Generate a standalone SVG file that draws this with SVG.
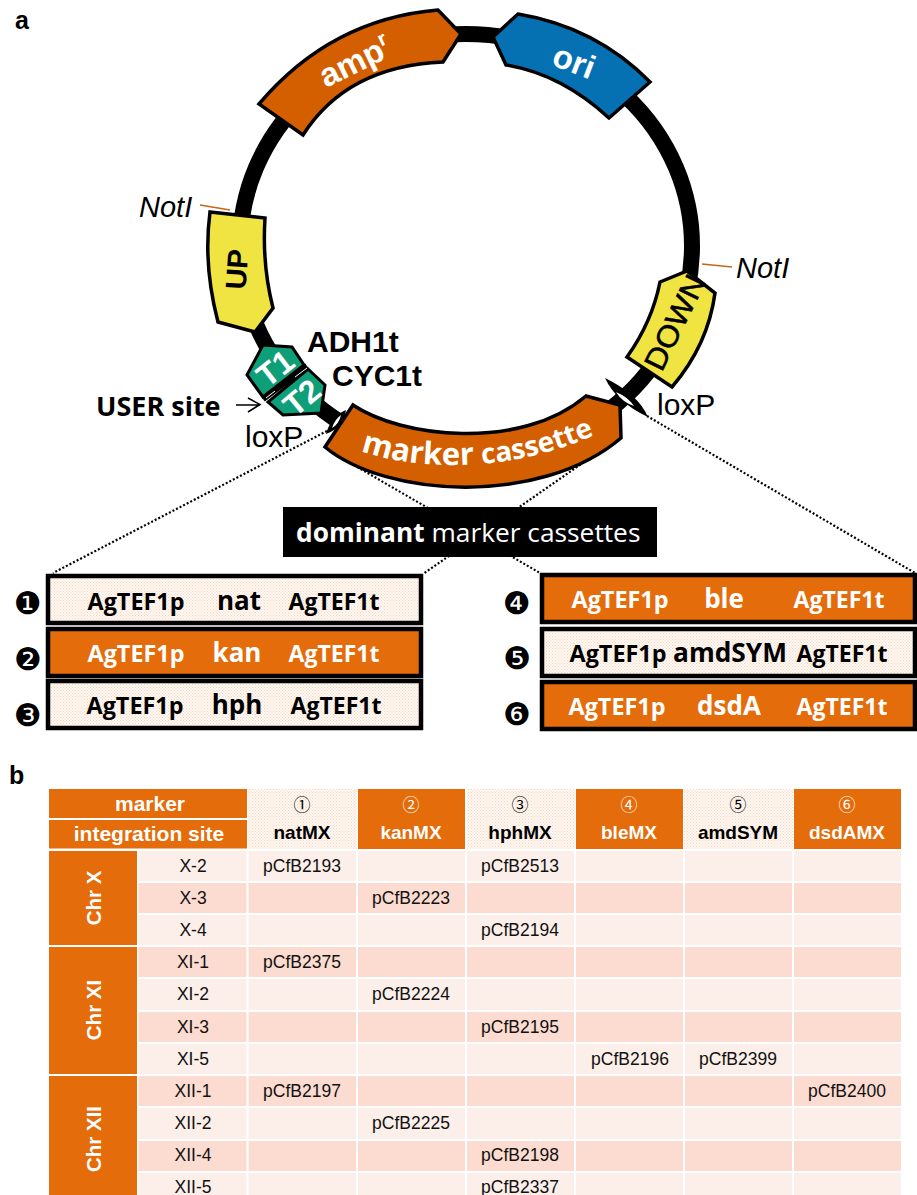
<svg xmlns="http://www.w3.org/2000/svg" width="917" height="1195" viewBox="0 0 917 1195">
<style>
text{font-family:"Liberation Sans",Arial,sans-serif}
.ol{stroke:#000;stroke-width:3.5;stroke-linejoin:miter}
.amp{fill:#D45F00}.ori{fill:#0571B2}.yel{fill:#F0E442}.grn{fill:#0E9E78}
.w{fill:#fff}.k{fill:#000}
.gb{font-weight:700;font-size:33px;fill:#fff}
.os{font-family:"Open Sans","Liberation Sans",sans-serif}
.cas{font-family:"Open Sans","Liberation Sans",sans-serif;font-weight:700;font-size:23px;text-anchor:middle}
.gene{font-family:"Open Sans","Liberation Sans",sans-serif;font-weight:700;font-size:26px;text-anchor:middle}
.num{font-family:"DejaVu Sans",sans-serif;font-size:31px;text-anchor:middle;fill:#000}
.box{stroke:#000;stroke-width:4.5}
.pale{fill:url(#dots)}.org{fill:#E46C0A}
.dot{fill:none;stroke:#000;stroke-width:2.2;stroke-dasharray:2 2}
.lab{font-size:30px;fill:#000}
.hd{font-weight:700;font-size:19px;text-anchor:middle}
.cn{font-family:"Noto Sans CJK JP",sans-serif;font-size:17px;text-anchor:middle}
.c{font-size:17.5px;text-anchor:middle;fill:#111}
.lt{fill:#FCEFE9}.dk{fill:#FCDCD0}
.chr{font-weight:700;font-size:20.5px;fill:#fff;text-anchor:middle}
.th{font-weight:700;font-size:21px;fill:#fff;text-anchor:middle}
</style>
<defs>
<pattern id="dots" width="3" height="3" patternUnits="userSpaceOnUse">
<rect width="3" height="3" fill="#FEF9F5"/><rect width="1" height="1" fill="#F6D5BC"/><rect x="1.5" y="1.5" width="1" height="1" fill="#F6D5BC"/>
</pattern>
<path id="mk" d="M356 449C395 464 440 467 480 464C520 461 565 450 605 430"/>
</defs>
<rect width="917" height="1195" fill="#fff"/>
<text x="15" y="29" font-weight="700" font-size="25">a</text>
<text x="9" y="784" font-weight="700" font-size="25">b</text>

<g id="connectors">
<path class="dot" d="M327 431L53 573"/>
<path class="dot" d="M340 457L540 573"/>
<path class="dot" d="M597 453L423 574"/>
<path class="dot" d="M647 416L915 573"/>
<path d="M236 405H260M248 398L260 404.500L248 412" fill="none" stroke="#000" stroke-width="1.500"/>
<path d="M200 205L230 210" fill="none" stroke="#C8651B" stroke-width="1.500"/>
<path d="M702 264L732 267" fill="none" stroke="#C8651B" stroke-width="1.500"/>
</g>

<g id="plasmid"><ellipse cx="466" cy="246" rx="226" ry="212" fill="none" stroke="#000" stroke-width="16"/></g>

<g id="amp">
<path class="amp ol" d="M259 104Q331 19 438 10L461 34L443 62Q347 66 303 135Z"/>
<text class="gb" transform="translate(326 88) rotate(-26)">amp<tspan font-size="20" dy="-13">r</tspan></text>
</g>
<g id="ori">
<path class="ori ol" d="M493 37L518 14Q596 27 650 82L609 118Q561 74 506 65Z"/>
<text class="gb" transform="translate(570 72) rotate(21)" text-anchor="middle">ori</text>
</g>
<g id="up">
<path class="yel ol" d="M210 212L265 218Q262 265 273 308L255 332L218 322Q203 265 210 212Z"/>
<text transform="translate(247 270) rotate(-86)" text-anchor="middle" font-size="29" font-weight="700">UP</text>
</g>
<g id="down">
<path class="yel ol" d="M660 282L687 271L715 293Q708 345 672 387L627 357Q652 322 660 282Z"/>
<text transform="translate(684 327) rotate(-64)" text-anchor="middle" font-size="30" stroke="#000" stroke-width="0.500" textLength="102" lengthAdjust="spacingAndGlyphs">DOWN</text>
</g>
<g id="t1">
<path class="grn" stroke="#000" stroke-width="3" d="M263 345L292 347L304 365L263 397L247 375Z"/>
<text transform="translate(282 377) rotate(-38)" text-anchor="middle" font-size="32" font-weight="700" fill="#fff">T1</text>
</g>
<g id="t2">
<path class="grn" stroke="#000" stroke-width="3" d="M308 369L325 385L321 413L283 415L268 402Z"/>
<text transform="translate(309 406) rotate(-40)" text-anchor="middle" font-size="32" font-weight="700" fill="#fff">T2</text>
</g>
<path d="M263 399L307 366" stroke="#000" stroke-width="6" fill="none"/>
<path d="M266 398L275 391M295 377L307 368" stroke="#fff" stroke-width="1" fill="none"/>
<g id="marker-cassette">
<path class="amp ol" d="M353 405C400 437 520 452 586 396L620 405L621 438C540 507 385 497 325 447Z"/>
<text class="w os" font-weight="700"><textPath href="#mk" startOffset="5"><tspan font-size="31">marker </tspan><tspan font-size="28">cassette</tspan></textPath></text>
</g>
<g id="loxp-left">
<path d="M326 434Q331 416 346 410Q343 428 326 434Z" fill="#000"/>
<path d="M332 428Q335 419 341 415Q339 424 332 428Z" fill="#fff"/>
<text class="lab" x="245" y="447">loxP</text>
</g>
<g id="loxp-right">
<path d="M605 378Q638 394 648 417Q616 402 605 378Z" fill="#000"/>
<path d="M616 392Q628 397 634 406Q622 402 616 392Z" fill="#fff"/>
<text class="lab" x="657" y="415">loxP</text>
</g>
<g id="notI-left"><text x="139" y="217" font-size="29" font-style="italic">NotI</text></g>
<g id="notI-right"><text x="736" y="278" font-size="29" font-style="italic">NotI</text></g>
<g id="t1-label"><text x="307" y="352" font-size="30" font-weight="700">ADH1t</text></g>
<g id="t2-label"><text x="332" y="386" font-size="30" font-weight="700">CYC1t</text></g>
<g id="user-site"><text class="os" x="96" y="416" font-size="27" font-weight="700">USER site</text></g>

<g id="title">
<rect x="283" y="507" width="374" height="50" fill="#000"/>
<text class="os" x="296" y="542" font-size="26.300" fill="#fff"><tspan font-weight="700">dominant</tspan> marker cassettes</text>
</g>

<g id="cassette-1">
<rect class="box pale" x="48" y="576" width="373" height="47"/>
<text class="num" x="28" y="614">❶</text>
<text class="cas" x="136" y="610" textLength="97" lengthAdjust="spacingAndGlyphs">AgTEF1p</text>
<text class="gene" x="239" y="610">nat</text>
<text class="cas" x="334" y="610" textLength="91" lengthAdjust="spacingAndGlyphs">AgTEF1t</text>
</g>
<g id="cassette-2">
<rect class="box org" x="48" y="629" width="373" height="47"/>
<text class="num" x="28" y="670">❷</text>
<g fill="#fff">
<text class="cas" x="136" y="662" textLength="97" lengthAdjust="spacingAndGlyphs">AgTEF1p</text>
<text class="gene" x="237" y="662">kan</text>
<text class="cas" x="334" y="662" textLength="91" lengthAdjust="spacingAndGlyphs">AgTEF1t</text>
</g>
</g>
<g id="cassette-3">
<rect class="box pale" x="48" y="681" width="373" height="47"/>
<text class="num" x="28" y="726">❸</text>
<text class="cas" x="135" y="714" textLength="97" lengthAdjust="spacingAndGlyphs">AgTEF1p</text>
<text class="gene" x="237" y="714">hph</text>
<text class="cas" x="336" y="714" textLength="91" lengthAdjust="spacingAndGlyphs">AgTEF1t</text>
</g>
<g id="cassette-4">
<rect class="box org" x="542" y="575" width="373" height="47"/>
<text class="num" x="517" y="614">❹</text>
<g fill="#fff">
<text class="cas" x="620" y="608" textLength="97" lengthAdjust="spacingAndGlyphs">AgTEF1p</text>
<text class="gene" x="724" y="608">ble</text>
<text class="cas" x="839" y="608" textLength="91" lengthAdjust="spacingAndGlyphs">AgTEF1t</text>
</g>
</g>
<g id="cassette-5">
<rect class="box pale" x="542" y="629" width="373" height="47"/>
<text class="num" x="517" y="669">❺</text>
<text class="cas" x="618" y="662" textLength="97" lengthAdjust="spacingAndGlyphs">AgTEF1p</text>
<text class="gene" x="730" y="662" textLength="114" lengthAdjust="spacingAndGlyphs">amdSYM</text>
<text class="cas" x="842" y="662" textLength="91" lengthAdjust="spacingAndGlyphs">AgTEF1t</text>
</g>
<g id="cassette-6">
<rect class="box org" x="542" y="682" width="373" height="47"/>
<text class="num" x="517" y="725">❻</text>
<g fill="#fff">
<text class="cas" x="617" y="715" textLength="97" lengthAdjust="spacingAndGlyphs">AgTEF1p</text>
<text class="gene" x="729" y="715">dsdA</text>
<text class="cas" x="842" y="715" textLength="91" lengthAdjust="spacingAndGlyphs">AgTEF1t</text>
</g>
</g>

<g id="table">
<rect class="org" x="49" y="789" width="198" height="29"/>
<rect class="org" x="49" y="820" width="198" height="28.500"/>
<text class="th" x="150" y="811">marker</text>
<text class="th" x="149" y="841">integration site</text>
<rect class="pale" x="248" y="789" width="109" height="60"/>
<rect class="org" x="358" y="789" width="107" height="60"/>
<rect class="pale" x="467" y="789" width="108" height="60"/>
<rect class="org" x="576" y="789" width="107" height="60"/>
<rect class="pale" x="684" y="789" width="109" height="60"/>
<rect class="org" x="794" y="789" width="107" height="60"/>
<text class="cn" x="302" y="811" fill="#000">①</text>
<text class="cn" x="411" y="811" fill="#fff">②</text>
<text class="cn" x="520" y="811" fill="#000">③</text>
<text class="cn" x="629" y="811" fill="#fff">④</text>
<text class="cn" x="738" y="811" fill="#000">⑤</text>
<text class="cn" x="847" y="811" fill="#fff">⑥</text>
<text class="hd" x="302" y="839" fill="#000">natMX</text>
<text class="hd" x="411" y="839" fill="#fff">kanMX</text>
<text class="hd" x="520" y="839" fill="#000">hphMX</text>
<text class="hd" x="629" y="839" fill="#fff">bleMX</text>
<text class="hd" x="738" y="839" fill="#000">amdSYM</text>
<text class="hd" x="847" y="839" fill="#fff">dsdAMX</text>

<rect class="org" x="49" y="851" width="88" height="94"/>
<rect class="org" x="49" y="947" width="88" height="127"/>
<rect class="org" x="49" y="1076" width="88" height="119"/>
<text class="chr" transform="translate(101 898) rotate(-90)">Chr X</text>
<text class="chr" transform="translate(101 1010) rotate(-90)">Chr XI</text>
<text class="chr" transform="translate(101 1139) rotate(-90)">Chr XII</text>

<rect class="lt" x="138.500" y="851" width="762.500" height="30"/>
<rect class="dk" x="138.500" y="883" width="762.500" height="30"/>
<rect class="lt" x="138.500" y="915" width="762.500" height="30"/>
<rect class="dk" x="138.500" y="947" width="762.500" height="30"/>
<rect class="lt" x="138.500" y="979" width="762.500" height="31"/>
<rect class="dk" x="138.500" y="1012" width="762.500" height="30"/>
<rect class="lt" x="138.500" y="1044" width="762.500" height="30"/>
<rect class="dk" x="138.500" y="1076" width="762.500" height="30"/>
<rect class="lt" x="138.500" y="1108" width="762.500" height="31"/>
<rect class="dk" x="138.500" y="1141" width="762.500" height="30"/>
<rect class="lt" x="138.500" y="1173" width="762.500" height="22"/>
<path d="M247.500 851V1195M357 851V1195M466 851V1195M575 851V1195M684 851V1195M793 851V1195" stroke="#fff" stroke-width="2" fill="none"/>

<text class="c" x="193" y="872">X-2</text>
<text class="c" x="193" y="904">X-3</text>
<text class="c" x="193" y="936">X-4</text>
<text class="c" x="193" y="968">XI-1</text>
<text class="c" x="193" y="1000">XI-2</text>
<text class="c" x="193" y="1033">XI-3</text>
<text class="c" x="193" y="1065">XI-5</text>
<text class="c" x="193" y="1097">XII-1</text>
<text class="c" x="193" y="1129">XII-2</text>
<text class="c" x="193" y="1161">XII-4</text>
<text class="c" x="193" y="1193">XII-5</text>

<text class="c" x="302" y="872">pCfB2193</text>
<text class="c" x="520" y="872">pCfB2513</text>
<text class="c" x="411" y="904">pCfB2223</text>
<text class="c" x="520" y="936">pCfB2194</text>
<text class="c" x="302" y="968">pCfB2375</text>
<text class="c" x="411" y="1000">pCfB2224</text>
<text class="c" x="520" y="1033">pCfB2195</text>
<text class="c" x="630" y="1065">pCfB2196</text>
<text class="c" x="738" y="1065">pCfB2399</text>
<text class="c" x="302" y="1097">pCfB2197</text>
<text class="c" x="847" y="1097">pCfB2400</text>
<text class="c" x="411" y="1129">pCfB2225</text>
<text class="c" x="520" y="1161">pCfB2198</text>
<text class="c" x="520" y="1193">pCfB2337</text>
</g>
</svg>
